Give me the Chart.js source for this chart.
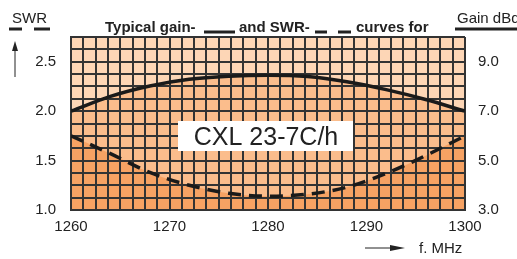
<!DOCTYPE html>
<html>
<head>
<meta charset="utf-8">
<script src="https://cdn.jsdelivr.net/npm/chart.js@4/dist/chart.umd.min.js"></script>
<style>
  html, body { margin: 0; padding: 0; background: #fff; }
  .wrap { width: 517px; height: 259px; position: relative; }
</style>
</head>
<body>
<div class="wrap"><canvas class="chartCxl"></canvas></div>
<script>
// frequency (MHz) and the two curves
var frequencies = [1260, 1264, 1268, 1272, 1276, 1280, 1284, 1288, 1292, 1296, 1300];
var gainDbd     = [7.0, 7.6, 8.02, 8.29, 8.41, 8.45, 8.40, 8.19, 7.87, 7.47, 7.0];
var swrValues   = [1.75, 1.57, 1.38, 1.25, 1.17, 1.14, 1.16, 1.23, 1.37, 1.55, 1.75];
var freqLabels  = [1260, 1270, 1280, 1290, 1300];
var swrLabels   = [1.0, 1.5, 2.0, 2.5];
var gainLabels  = [3.0, 5.0, 7.0, 9.0];
var swrTop = 2.75;

var lightFill = "#fdd6b6";
var midFill = "#fbbd8c";
var darkFill = "#f6a263";
var gridColor = "#333333";
var fontFam = "'Liberation Sans', Arial, sans-serif";

Chart.defaults.font.family = fontFam;
Chart.defaults.font.size = 15;
Chart.defaults.color = "#222";

function points(values) {
    return frequencies.map(function (f, i) { return { x: f, y: values[i] }; });
}

var sheetDecor = {
    id: "sheetDecor",
    afterDraw: function (chart) {
        var ctx = chart.ctx;
        ctx.save();
        ctx.fillStyle = "#222";
        ctx.strokeStyle = "#222";
        ctx.textBaseline = "alphabetic";

        // model label box
        ctx.fillStyle = "#fff";
        ctx.fillRect(178, 121, 175, 30);
        ctx.fillStyle = "#222";
        ctx.font = "25px " + fontFam;
        ctx.textAlign = "center";
        ctx.fillText("CXL 23-7C/h", 266, 145);

        // title with line samples
        ctx.textAlign = "left";
        ctx.font = "bold 15px " + fontFam;
        ctx.fillText("Typical gain-", 105, 32);
        ctx.fillText("and SWR-", 239, 32);
        ctx.fillText("curves for", 356, 32);
        ctx.lineWidth = 3;
        ctx.beginPath();
        ctx.moveTo(204, 32); ctx.lineTo(235, 32);
        ctx.moveTo(315, 32); ctx.lineTo(327, 32);
        ctx.moveTo(338, 32); ctx.lineTo(351, 32);
        ctx.stroke();

        // left axis caption
        ctx.font = "15px " + fontFam;
        ctx.fillText("SWR", 12, 23);
        ctx.beginPath();
        ctx.moveTo(9, 29); ctx.lineTo(22, 29);
        ctx.moveTo(34, 29); ctx.lineTo(50, 29);
        ctx.stroke();
        ctx.lineWidth = 1;
        ctx.beginPath();
        ctx.moveTo(15, 77); ctx.lineTo(15, 48);
        ctx.stroke();
        ctx.beginPath();
        ctx.moveTo(15, 41); ctx.lineTo(12, 51); ctx.lineTo(18, 51);
        ctx.closePath(); ctx.fill();

        // right axis caption
        ctx.fillText("Gain dBd", 457, 23);
        ctx.lineWidth = 3;
        ctx.beginPath();
        ctx.moveTo(455, 29); ctx.lineTo(517, 29);
        ctx.stroke();

        // frequency caption
        ctx.fillText("f. MHz", 419, 253);
        ctx.lineWidth = 1;
        ctx.beginPath();
        ctx.moveTo(365, 248); ctx.lineTo(392, 248);
        ctx.stroke();
        ctx.beginPath();
        ctx.moveTo(405, 248); ctx.lineTo(390, 245); ctx.lineTo(390, 251);
        ctx.closePath(); ctx.fill();
        ctx.restore();
    }
};

const chartCxl = document.querySelector(".chartCxl");
var contextCxl = chartCxl.getContext("2d");

var myChartCxl = new Chart(contextCxl, {
    type: "line",
    data: {
        datasets: [
            {
                label: "SWR",
                data: points(swrValues),
                yAxisID: "y",
                borderColor: "#1a1a1a",
                borderWidth: 3.5,
                borderDash: [13, 8],
                backgroundColor: darkFill,
                fill: "start",
                pointRadius: 0,
                cubicInterpolationMode: "monotone",
                order: 1
            },
            {
                label: "Gain",
                data: points(gainDbd),
                yAxisID: "y1",
                borderColor: "#1a1a1a",
                borderWidth: 3.5,
                backgroundColor: midFill,
                fill: "start",
                pointRadius: 0,
                cubicInterpolationMode: "monotone",
                order: 2
            },
            {
                // paper colour of the whole plot area
                label: "sheet",
                data: frequencies.map(function (f) { return { x: f, y: swrTop }; }),
                yAxisID: "y",
                borderWidth: 0,
                borderColor: "rgba(0,0,0,0)",
                backgroundColor: lightFill,
                fill: "start",
                pointRadius: 0,
                order: 3
            }
        ]
    },
    options: {
        responsive: true,
        maintainAspectRatio: false,
        animation: false,
        layout: { padding: { top: 37, left: 0, right: 0, bottom: 0 } },
        plugins: {
            legend: { display: false },
            tooltip: { enabled: false },
            filler: { drawTime: "beforeDraw" }
        },
        scales: {
            x: {
                type: "linear",
                min: 1260,
                max: 1300,
                afterFit: function (s) { s.height = 49; },
                grid: { color: gridColor, lineWidth: 2, drawTicks: false },
                border: { color: gridColor, width: 2 },
                ticks: {
                    stepSize: 1.25,
                    maxTicksLimit: 100,
                    autoSkip: false,
                    maxRotation: 0,
                    padding: 8,
                    color: "#222",
                    callback: function (v) { return freqLabels.indexOf(v) >= 0 ? String(v) : ""; }
                }
            },
            y: {
                position: "left",
                min: 1.0,
                max: swrTop,
                afterFit: function (s) { s.width = 71; },
                grid: { color: gridColor, lineWidth: 2, drawTicks: false },
                border: { color: gridColor, width: 2 },
                ticks: {
                    stepSize: 0.125,
                    maxTicksLimit: 100,
                    autoSkip: false,
                    padding: 15,
                    color: "#222",
                    callback: function (v) { return swrLabels.indexOf(v) >= 0 ? v.toFixed(1) : ""; }
                }
            },
            y1: {
                position: "right",
                min: 3,
                max: 10,
                afterFit: function (s) { s.width = 52; },
                grid: { drawOnChartArea: false, drawTicks: false },
                border: { display: false },
                ticks: {
                    stepSize: 0.5,
                    maxTicksLimit: 100,
                    autoSkip: false,
                    padding: 13,
                    color: "#222",
                    callback: function (v) { return gainLabels.indexOf(v) >= 0 ? v.toFixed(1) : ""; }
                }
            }
        }
    },
    plugins: [sheetDecor]
});
</script>
</body>
</html>
